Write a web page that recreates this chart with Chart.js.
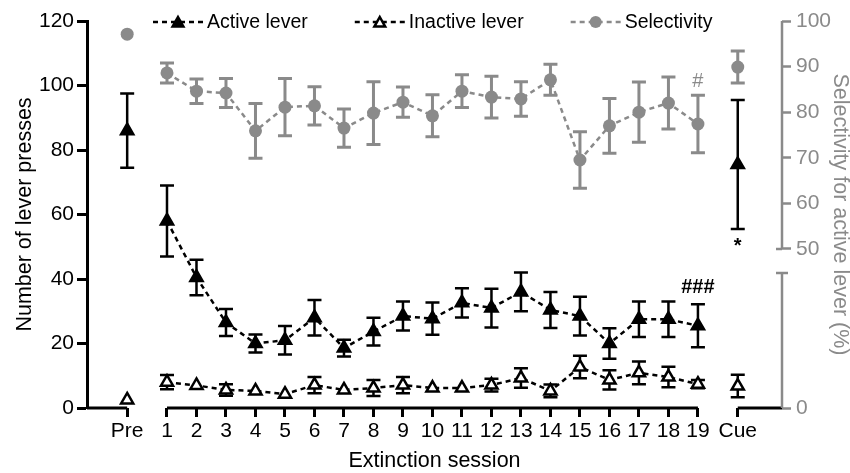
<!DOCTYPE html>
<html>
<head>
<meta charset="utf-8">
<script src="https://cdn.jsdelivr.net/npm/chart.js@4.4.1/dist/chart.umd.min.js"></script>
<style>
  html, body { margin: 0; padding: 0; background: #fff; }
</style>
</head>
<body>
<canvas id="myChart" width="850" height="473"></canvas>
<script>
// categories: Pre, extinction sessions 1-19, Cue
const tickLabels = ['Pre', '1', '2', '3', '4', '5', '6', '7', '8', '9', '10',
    '11', '12', '13', '14', '15', '16', '17', '18', '19', 'Cue'];

// lever presses (left axis), mean and SEM
const activeMean = [86, 58, 40.5, 26.5, 20, 21, 28, 18.6, 23.7, 28.5, 27.7,
    32.6, 31, 36, 30.4, 28.5, 20, 27.5, 27.5, 25.5, 75.5];
const activeSem = [11.5, 11, 5.5, 4.2, 2.8, 4.4, 5.5, 2.6, 4.3, 4.5, 5,
    4.5, 6, 6, 5.6, 6, 4.7, 5.5, 5.5, 6.7, 20];
const inactiveMean = [2.5, 8, 7, 5.6, 5.3, 4.3, 7.1, 5.6, 6.2, 7.1, 6.2,
    6.2, 7.1, 9.3, 5.3, 12.7, 8.7, 10.9, 9.6, 7.4, 6.8];
const inactiveSem = [0, 2.2, 0, 1.8, 0, 0, 2.5, 0, 2.5, 2.5, 0,
    0, 2, 3, 2, 3.5, 3, 3.5, 3.2, 1.3, 3.5];

// selectivity for active lever in % (right axis)
const selMean = [97.1, 88.6, 84.6, 84.2, 75.9, 81.1, 81.4, 76.5, 79.8, 82.2, 79.2,
    84.6, 83.3, 82.9, 87.1, 69.5, 77, 80, 82, 77.4, 89.9];
const selSem = [0, 2.2, 2.7, 3.2, 6, 6.3, 4.2, 4.2, 6.9, 3.3, 4.6,
    3.6, 4.6, 3.8, 3.4, 6.2, 6, 6.6, 5.7, 6.3, 3.5];

const leftTicks = [0, 20, 40, 60, 80, 100, 120];
const rightTicks = [50, 60, 70, 80, 90, 100];

const FONT = "'Liberation Sans', Arial, Helvetica, sans-serif";
const GREY = '#8a8a8a';
const LAST = tickLabels.length - 1;
const GAP = 0.35;          // extra space around Pre and Cue
const Y2_MIN = 15.1;       // bottom of broken right axis, shown as "0"

const xPos = i => i - (i === 0 ? GAP : 0) + (i === LAST ? GAP : 0);
const pts = arr => arr.map((v, i) => ({ x: xPos(i), y: v }));
const hideEnds = c => (c.p0DataIndex === 0 || c.p1DataIndex === LAST) ? 'rgba(0,0,0,0)' : undefined;

function drawTri(ctx, x, y, r, fill) {
    ctx.beginPath();
    ctx.moveTo(x, y - r);
    ctx.lineTo(x + r * 0.9, y + r * 0.6);
    ctx.lineTo(x - r * 0.9, y + r * 0.6);
    ctx.closePath();
    ctx.fillStyle = fill;
    ctx.fill();
    ctx.lineWidth = 2.5;
    ctx.strokeStyle = '#000';
    ctx.stroke();
}

const errorBars = {
    id: 'errorBars',
    beforeDatasetsDraw(chart) {
        const { ctx, scales } = chart;
        const sets = [
            [activeMean, activeSem, scales.y, '#000', 2.5],
            [inactiveMean, inactiveSem, scales.y, '#000', 2.5],
            [selMean, selSem, scales.y2, GREY, 3]
        ];
        ctx.save();
        sets.forEach(([m, s, ys, col, w]) => {
            ctx.strokeStyle = col;
            ctx.lineWidth = w;
            m.forEach((v, i) => {
                if (!s[i]) return;
                const x = scales.x.getPixelForValue(xPos(i));
                const t = ys.getPixelForValue(v + s[i]);
                const b = ys.getPixelForValue(v - s[i]);
                ctx.beginPath();
                ctx.moveTo(x, t); ctx.lineTo(x, b);
                ctx.moveTo(x - 7, t); ctx.lineTo(x + 7, t);
                ctx.moveTo(x - 7, b); ctx.lineTo(x + 7, b);
                ctx.stroke();
            });
        });
        ctx.restore();
    }
};

const decorations = {
    id: 'decorations',
    afterDraw(chart) {
        const { ctx, scales, chartArea } = chart;
        const x = scales.x, y = scales.y, y2 = scales.y2;
        const bottom = chartArea.bottom;
        const midY = (chartArea.top + chartArea.bottom) / 2;
        ctx.save();

        // broken x axis
        ctx.strokeStyle = '#000';
        ctx.lineWidth = 3;
        ctx.beginPath();
        ctx.moveTo(chartArea.left, bottom); ctx.lineTo(x.getPixelForValue(xPos(0)), bottom);
        ctx.moveTo(x.getPixelForValue(xPos(1)), bottom); ctx.lineTo(x.getPixelForValue(xPos(LAST - 1)), bottom);
        ctx.moveTo(x.getPixelForValue(xPos(LAST)), bottom); ctx.lineTo(chartArea.right, bottom);
        ctx.stroke();

        // broken right axis
        const rx = chartArea.right;
        const p50 = y2.getPixelForValue(50);
        const lowTop = p50 + 24;
        ctx.strokeStyle = GREY;
        ctx.lineWidth = 2.5;
        ctx.beginPath();
        ctx.moveTo(rx, y2.getPixelForValue(100)); ctx.lineTo(rx, p50);
        ctx.moveTo(rx - 6, p50); ctx.lineTo(rx, p50);
        ctx.moveTo(rx, lowTop); ctx.lineTo(rx, bottom);
        ctx.moveTo(rx - 6, lowTop); ctx.lineTo(rx + 6, lowTop);
        ctx.stroke();

        // axis titles
        ctx.font = '21.5px ' + FONT;
        ctx.textAlign = 'center';
        ctx.textBaseline = 'middle';
        ctx.fillStyle = '#000';
        ctx.fillText('Extinction session', (chartArea.left + chartArea.right) / 2, 461);
        ctx.save();
        ctx.translate(25, midY);
        ctx.rotate(-Math.PI / 2);
        ctx.fillText('Number of lever presses', 0, 0);
        ctx.restore();
        ctx.save();
        ctx.fillStyle = GREY;
        ctx.translate(840, midY);
        ctx.rotate(Math.PI / 2);
        ctx.fillText('Selectivity for active lever (%)', 0, 0);
        ctx.restore();

        // significance marks
        const x19 = x.getPixelForValue(xPos(LAST - 1));
        const xCue = x.getPixelForValue(xPos(LAST));
        ctx.font = 'bold 20px ' + FONT;
        ctx.fillStyle = '#000';
        ctx.fillText('###', x19, y.getPixelForValue(activeMean[LAST - 1] + activeSem[LAST - 1]) - 17);
        ctx.fillText('*', xCue, y.getPixelForValue(activeMean[LAST] - activeSem[LAST]) + 17);
        ctx.font = '20px ' + FONT;
        ctx.fillStyle = GREY;
        ctx.fillText('#', x19, y2.getPixelForValue(selMean[LAST - 1] + selSem[LAST - 1]) - 14);

        // legend
        const items = [
            { text: 'Active lever', col: '#000', mark: 'tri' },
            { text: 'Inactive lever', col: '#000', mark: 'open' },
            { text: 'Selectivity', col: GREY, mark: 'dot' }
        ];
        let lx = 153;
        const ly = 22;
        ctx.font = '19.5px ' + FONT;
        ctx.textAlign = 'left';
        items.forEach(it => {
            ctx.strokeStyle = it.col;
            ctx.lineWidth = 2.5;
            ctx.setLineDash([5, 4]);
            ctx.beginPath();
            ctx.moveTo(lx, ly); ctx.lineTo(lx + 51, ly);
            ctx.stroke();
            ctx.setLineDash([]);
            const mx = lx + 25;
            if (it.mark === 'tri') drawTri(ctx, mx, ly + 1, 6, '#000');
            else if (it.mark === 'open') drawTri(ctx, mx, ly + 1, 6, '#fff');
            else {
                ctx.beginPath();
                ctx.arc(mx, ly, 6, 0, Math.PI * 2);
                ctx.fillStyle = GREY;
                ctx.fill();
            }
            ctx.fillStyle = '#000';
            ctx.fillText(it.text, lx + 54, ly + 1);
            lx += 54 + ctx.measureText(it.text).width + 47;
        });
        ctx.restore();
    }
};

const lineBase = {
    borderWidth: 2.5,
    borderDash: [5, 4],
    pointRadius: 7,
    pointHoverRadius: 7,
    pointBorderWidth: 2.5,
    tension: 0,
    segment: { borderColor: hideEnds }
};

const data = {
    datasets: [
        Object.assign({}, lineBase, {
            label: 'Active lever',
            data: pts(activeMean),
            yAxisID: 'y',
            borderColor: '#000',
            pointStyle: 'triangle',
            pointBackgroundColor: '#000',
            pointBorderColor: '#000'
        }),
        Object.assign({}, lineBase, {
            label: 'Inactive lever',
            data: pts(inactiveMean),
            yAxisID: 'y',
            borderColor: '#000',
            pointStyle: 'triangle',
            pointBackgroundColor: '#fff',
            pointBorderColor: '#000'
        }),
        Object.assign({}, lineBase, {
            label: 'Selectivity',
            data: pts(selMean),
            yAxisID: 'y2',
            borderColor: GREY,
            pointStyle: 'circle',
            pointRadius: 6.5,
            pointHoverRadius: 6.5,
            pointBorderWidth: 0,
            pointBackgroundColor: GREY,
            pointBorderColor: GREY
        })
    ]
};

const config = {
    type: 'line',
    data: data,
    options: {
        responsive: false,
        animation: false,
        events: [],
        layout: { padding: { top: 21, left: 0, right: 0, bottom: 0 } },
        plugins: { legend: { display: false }, tooltip: { enabled: false } },
        scales: {
            x: {
                type: 'linear',
                min: -1.712,
                max: 21.85,
                afterBuildTicks: s => { s.ticks = tickLabels.map((t, i) => ({ value: xPos(i) })); },
                afterFit: s => { s.height = 65; },
                ticks: {
                    callback: (v, i) => tickLabels[i],
                    autoSkip: false,
                    maxRotation: 0,
                    padding: 2,
                    color: '#000',
                    font: { family: FONT, size: 21 }
                },
                grid: { drawOnChartArea: false, tickLength: 9, tickWidth: 3, tickColor: '#000' },
                border: { display: false }
            },
            y: {
                position: 'left',
                min: 0,
                max: 120,
                afterBuildTicks: s => { s.ticks = leftTicks.map(v => ({ value: v })); },
                afterFit: s => { s.width = 87; },
                ticks: { padding: 3, color: '#000', font: { family: FONT, size: 21 } },
                grid: { drawOnChartArea: false, tickLength: 10, tickWidth: 3, tickColor: '#000' },
                border: { display: true, width: 3, color: '#000' }
            },
            y2: {
                position: 'right',
                min: Y2_MIN,
                max: 100,
                afterBuildTicks: s => { s.ticks = [Y2_MIN].concat(rightTicks).map(v => ({ value: v })); },
                afterFit: s => { s.width = 68; },
                ticks: {
                    callback: v => v < 50 ? '0' : String(v),
                    padding: 5,
                    color: GREY,
                    font: { family: FONT, size: 21 }
                },
                grid: { drawOnChartArea: false, tickLength: 9, tickWidth: 2.5, tickColor: GREY },
                border: { display: false }
            }
        }
    },
    plugins: [errorBars, decorations]
};

new Chart(
    document.getElementById('myChart'),
    config
);
</script>
</body>
</html>
